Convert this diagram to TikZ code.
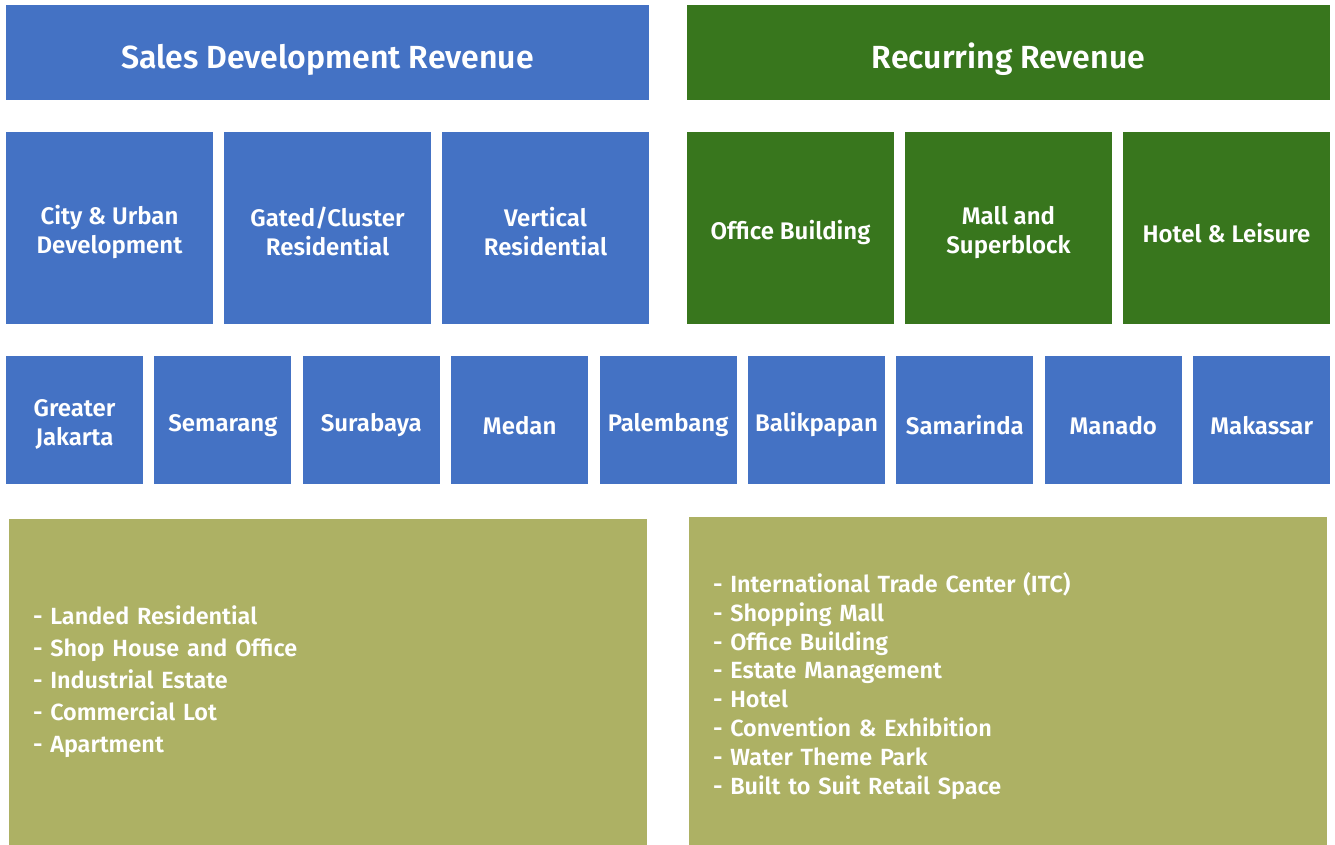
\documentclass[tikz,border=0pt]{standalone}
\usepackage{fontspec}
\setmainfont{Fira Sans}
\newfontfamily\semibold{Fira Sans SemiBold}
\usetikzlibrary{positioning}

\definecolor{salesblue}{RGB}{68,114,196}
\definecolor{rentgreen}{RGB}{56,118,29}
\definecolor{listolive}{RGB}{173,177,100}

% zero-width struts, to nudge a text block down in its box
\newcommand{\linestrut}{\rule{0pt}{1.1em}}
\newcommand{\tallstrut}{\rule{0pt}{1.2em}}

\begin{document}
\begin{tikzpicture}[x=1pt,y=-1pt,node distance=11pt,
  box/.style={rectangle,inner sep=0pt,outer sep=0pt,text=white,align=center,
    font=\semibold\fontsize{24}{29}\selectfont},
  single/.style={execute at begin node=\tallstrut},
  head node/.style={box,single,minimum width=643pt,minimum height=95pt,
    font=\semibold\fontsize{32}{40}\selectfont},
  segment node/.style={box,minimum width=207pt,minimum height=192pt},
  city node/.style={box,fill=salesblue,minimum width=137pt,minimum height=128pt},
  list node/.style={box,fill=listolive,align=left,inner xsep=24pt,text width=590pt}]
  \useasboundingbox (0,0) rectangle (1335,845);

  % revenue headers
  \node[head node,fill=salesblue,anchor=north west] (sales) at (6,5) {Sales Development Revenue};
  \node[head node,fill=rentgreen,anchor=north west] (recurring) at (687,5) {Recurring Revenue};

  % business segments
  \node[segment node,fill=salesblue,below=32pt of sales.south west,anchor=north west] (urban) {\linestrut City \& Urban\\Development};
  \node[segment node,fill=salesblue,right=of urban] (gated) {\linestrut Gated/Cluster\\Residential};
  \node[segment node,fill=salesblue,right=of gated] (vertical) {\linestrut Vertical\\Residential};
  \node[segment node,single,fill=rentgreen,below=32pt of recurring.south west,anchor=north west] (office) {Office Building};
  \node[segment node,fill=rentgreen,right=of office] (mall) {\linestrut Mall and\\Superblock};
  \node[segment node,single,fill=rentgreen,right=of mall] (hotel) {Hotel \& Leisure};

  % cities
  \node[city node,below=32pt of urban.south west,anchor=north west] (jakarta) {\linestrut Greater\\Jakarta};
  \node[city node,single,right=11.4pt of jakarta] (semarang) {Semarang};
  \node[city node,single,right=11.4pt of semarang] (surabaya) {Surabaya};
  \node[city node,single,right=11.4pt of surabaya] (medan) {Medan};
  \node[city node,single,right=11.4pt of medan] (palembang) {Palembang};
  \node[city node,single,right=11.4pt of palembang] (balikpapan) {Balikpapan};
  \node[city node,single,right=11.4pt of balikpapan] (samarinda) {Samarinda};
  \node[city node,single,right=11.4pt of samarinda] (manado) {Manado};
  \node[city node,single,right=11.4pt of manado] (makassar) {Makassar};

  % product lists
  \node[list node,minimum height=326pt,anchor=north west,
    font=\semibold\fontsize{23.4}{32}\selectfont] (salelist) at (9,519)
    {- Landed Residential\\- Shop House and Office\\- Industrial Estate\\- Commercial Lot\\- Apartment};
  \node[list node,minimum height=328pt,anchor=north west,
    font=\semibold\fontsize{23.4}{28.9}\selectfont] (rentlist) at (689,517)
    {\rule{0pt}{30pt}- International Trade Center (ITC)\\- Shopping Mall\\- Office Building\\- Estate Management\\- Hotel\\- Convention \& Exhibition\\- Water Theme Park\\- Built to Suit Retail Space};
\end{tikzpicture}
\end{document}
